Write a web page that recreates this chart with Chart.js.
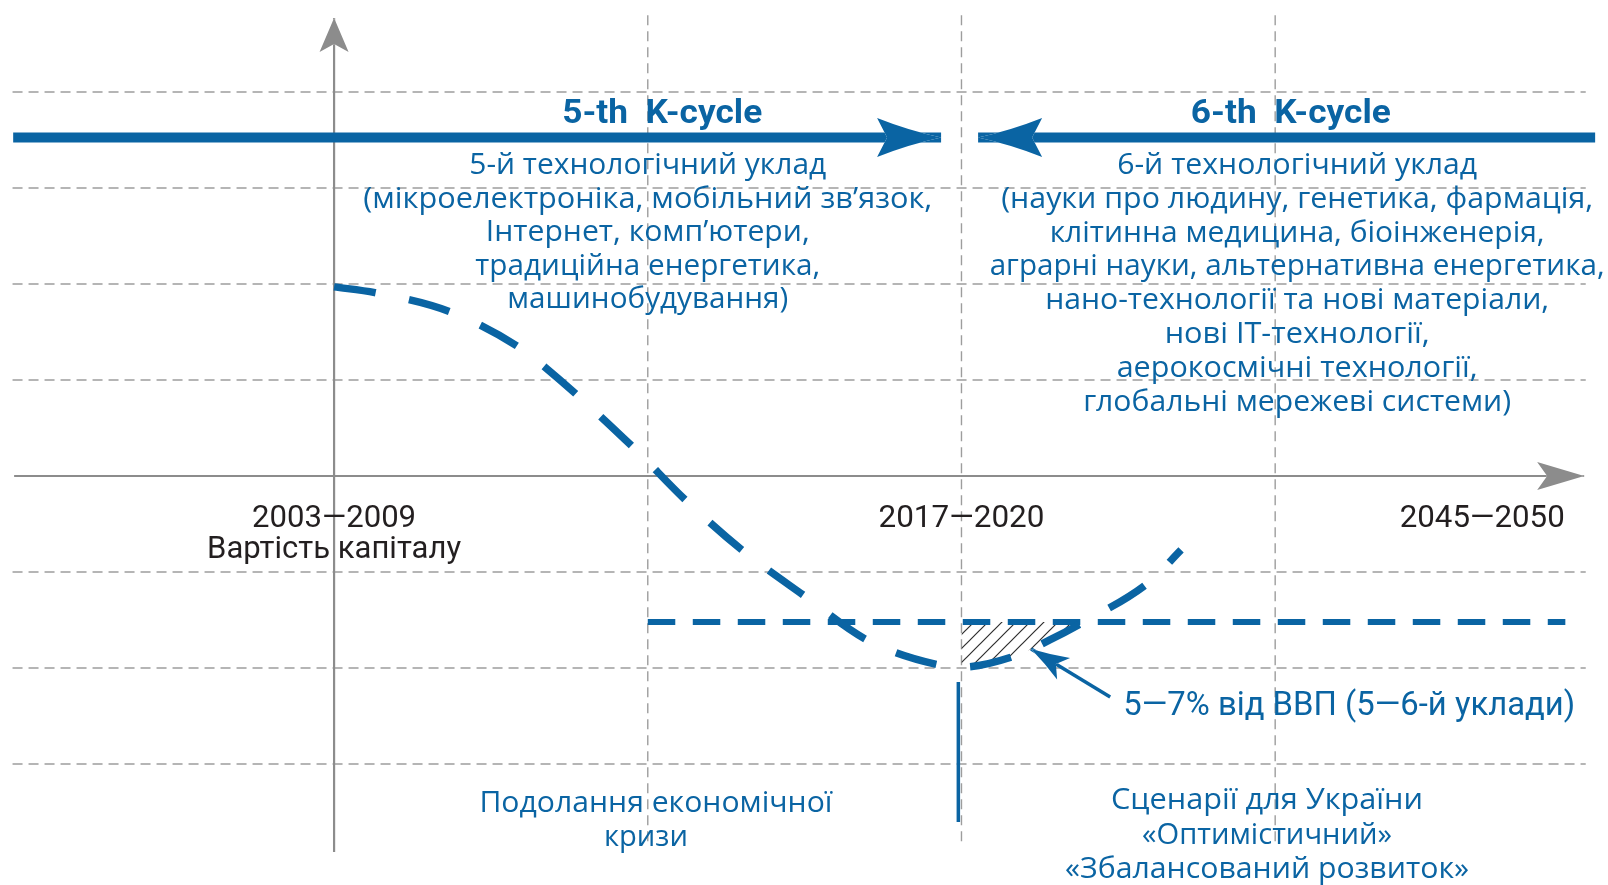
<!DOCTYPE html>
<html lang="uk">
<head>
<meta charset="utf-8">
<title>5-th / 6-th K-cycle</title>
<script src="https://cdn.jsdelivr.net/npm/chart.js@4.4.1/dist/chart.umd.min.js"></script>
<style>
  html, body { margin: 0; padding: 0; background: #fff; }
  #chart { display: block; }
</style>
</head>
<body>
<canvas id="chart" width="1608" height="885"></canvas>
<script>
// одиниці: x = 0 вертикальна вісь, 1/2/3 = вертикальні пунктири; y = 0 горизонтальна вісь, 1 = крок сітки
const curveX = [0, 0.13, 0.37, 0.59, 0.67, 0.95, 1.12, 1.30, 1.50, 1.70, 1.93, 2.00, 2.17, 2.28, 2.39, 2.60, 2.70];
const curveY = [1.97, 1.91, 1.71, 1.34, 1.14, 0.31, -0.25, -0.77, -1.25, -1.71, -1.97, -1.99, -1.875, -1.71, -1.52, -1.10, -0.77];

const gdpLevel = -1.52;          // рівень 5-7% ВВП
const gdpRange = [1, 3.925];

const gridRows = [4, 3, 2, 1, -1, -2, -3];
const gridCols = [1, 2, 3];

const periods = ['2003—2009', '2017—2020', '2045—2050'];
const periodX = [0, 2, 3.66];

const cycleTitles = ['5-th  K-cycle', '6-th  K-cycle'];
const tech5 = [
  '5-й технологічний уклад',
  '(мікроелектроніка, мобільний зв’язок,',
  'Інтернет, комп’ютери,',
  'традиційна енергетика,',
  'машинобудування)'
];
const tech6 = [
  '6-й технологічний уклад',
  '(науки про людину, генетика, фармація,',
  'клітинна медицина, біоінженерія,',
  'аграрні науки, альтернативна енергетика,',
  'нано-технології та нові матеріали,',
  'нові ІТ-технології,',
  'аерокосмічні технології,',
  'глобальні мережеві системи)'
];
const capitalLabel = 'Вартість капіталу';
const gdpLabel = '5—7% від ВВП (5—6-й уклади)';
const crisisLines = ['Подолання економічної', 'кризи'];
const scenarioLines = ['Сценарії для України', '«Оптимістичний»', '«Збалансований розвиток»'];

const BLUE = '#0a64a3';
const AXIS = '#8c8c8c';
const GRID = '#9d9d9d';
const INK = '#231f20';
const TXT = '30px "Open Sans", "Noto Sans", sans-serif';
const NUM = '32px Roboto, "Liberation Sans", sans-serif';
const periodW = [164, 166, 165];

const textBlocks = [
  { lines: [cycleTitles[0]], x: 1.046, y: 3.68, lh: 0, font: 'bold 33px Roboto, sans-serif', color: BLUE, w: [200] },
  { lines: [cycleTitles[1]], x: 3.05, y: 3.68, lh: 0, font: 'bold 33px Roboto, sans-serif', color: BLUE, w: [200] },
  { lines: tech5, x: 1.0, y: 3.146, lh: 33.6, font: TXT, color: BLUE, w: [357, 569, 324, 345, 281] },
  { lines: tech6, x: 3.07, y: 3.146, lh: 33.8, font: TXT, color: BLUE, w: [360, 592, 495, 615, 504, 265, 361, 428] },
  { lines: [capitalLabel], x: 0, y: -0.854, lh: 0, font: NUM, color: INK, w: [254] },
  { lines: [gdpLabel], x: 3.236, y: -2.49, lh: 0, font: '34px Roboto, sans-serif', color: BLUE, w: [452] },
  { lines: crisisLines, x: 1.01, y: -3.5, lh: 34, font: TXT, color: BLUE, w: [353, 84], dx: [5, -5] },
  { lines: scenarioLines, x: 2.974, y: -3.47, lh: 34.5, font: TXT, color: BLUE, w: [312, 250, 404] }
];
periods.forEach((p, i) => {
  textBlocks.push({ lines: [p], x: periodX[i], y: -0.531, lh: 0, font: NUM, color: INK, w: [periodW[i]] });
});

const pts = (xs, ys) => xs.map((x, i) => ({ x: x, y: ys[i] }));
const curve = pts(curveX, curveY);

function hatchPattern(ctx) {
  const c = document.createElement('canvas');
  c.width = 14; c.height = 14;
  const g = c.getContext('2d');
  g.strokeStyle = '#2e2e2e';
  g.lineWidth = 1.2;
  g.beginPath();
  g.moveTo(-2, 16); g.lineTo(16, -2);
  g.moveTo(-2, 2); g.lineTo(2, -2);
  g.moveTo(12, 16); g.lineTo(16, 12);
  g.stroke();
  return ctx.createPattern(c, 'repeat');
}

function line(data, color, width, extra) {
  return Object.assign({
    data: data,
    borderColor: color,
    borderWidth: width,
    pointRadius: 0,
    fill: false,
    tension: 0
  }, extra || {});
}

// наконечники стрілок: остання точка набору = вістря
function headShape(meta, h) {
  const n = meta.data.length;
  const tip = meta.data[n - 1], prev = meta.data[n - 2];
  const a = Math.atan2(tip.y - prev.y, tip.x - prev.x);
  const ux = Math.cos(a), uy = Math.sin(a);
  const bx = tip.x - ux * h.len, by = tip.y - uy * h.len;
  const c1 = [bx - uy * h.half, by + ux * h.half];
  const c2 = [bx + uy * h.half, by - ux * h.half];
  const mid = [(tip.x + bx) / 2, (tip.y + by) / 2];
  const f = h.bend || 0;
  const ctrl = c => [
    ((tip.x + c[0]) / 2) * (1 - f) + mid[0] * f,
    ((tip.y + c[1]) / 2) * (1 - f) + mid[1] * f
  ];
  return {
    tip: [tip.x, tip.y], c1: c1, c2: c2, k1: ctrl(c1), k2: ctrl(c2),
    notch: [tip.x - ux * (h.len - h.notch), tip.y - uy * (h.len - h.notch)]
  };
}
function traceHead(ctx, s) {
  ctx.moveTo(s.tip[0], s.tip[1]);
  ctx.quadraticCurveTo(s.k1[0], s.k1[1], s.c1[0], s.c1[1]);
  ctx.lineTo(s.notch[0], s.notch[1]);
  ctx.lineTo(s.c2[0], s.c2[1]);
  ctx.quadraticCurveTo(s.k2[0], s.k2[1], s.tip[0], s.tip[1]);
  ctx.closePath();
}

const headPlugin = {
  id: 'heads',
  beforeDatasetDraw(chart, args) {
    const ds = chart.data.datasets[args.index];
    if (!ds.head) return;
    const ctx = chart.ctx;
    ctx.save();
    ctx.beginPath();
    ctx.rect(0, 0, chart.width, chart.height);
    traceHead(ctx, headShape(args.meta, ds.head));
    ctx.clip('evenodd');
  },
  afterDatasetDraw(chart, args) {
    const ds = chart.data.datasets[args.index];
    if (!ds.head) return;
    const ctx = chart.ctx;
    ctx.restore();
    ctx.save();
    ctx.fillStyle = ds.borderColor;
    ctx.beginPath();
    traceHead(ctx, headShape(args.meta, ds.head));
    ctx.fill();
    ctx.restore();
  }
};

const textPlugin = {
  id: 'texts',
  afterDatasetsDraw(chart) {
    const ctx = chart.ctx;
    const xs = chart.scales.x, ys = chart.scales.y;
    ctx.save();
    ctx.textAlign = 'center';
    ctx.textBaseline = 'alphabetic';
    textBlocks.forEach(b => {
      ctx.font = b.font;
      ctx.fillStyle = b.color;
      const px = xs.getPixelForValue(b.x);
      const py = ys.getPixelForValue(b.y);
      b.lines.forEach((t, i) => {
        const k = b.w[i] / ctx.measureText(t).width;
        ctx.save();
        ctx.translate(px + (b.dx ? b.dx[i] : 0), py + i * b.lh);
        ctx.scale(k, 1);
        ctx.fillText(t, 0, 0);
        ctx.restore();
      });
    });
    ctx.restore();
  }
};

const ctx = document.getElementById('chart').getContext('2d');

// від нижнього шару до верхнього
const layers = [];
gridRows.forEach(r => layers.push(line([{ x: -1.025, y: r }, { x: 3.99, y: r }], GRID, 1.4, { borderDash: [10, 6] })));
gridCols.forEach(c => layers.push(line([{ x: c, y: 4.8 }, { x: c, y: -3.83 }], GRID, 1.4, { borderDash: [10, 6] })));
layers.push(line([{ x: -1.02, y: 0 }, { x: 3.985, y: 0 }], AXIS, 2.2, { head: { len: 47, half: 14, notch: 10 } }));
layers.push(line([{ x: 0, y: -3.917 }, { x: 0, y: 4.77 }], AXIS, 2.2, { head: { len: 34, half: 14.5, notch: 8 } }));
layers.push(line(curve.filter(p => p.x >= 2 && p.x <= 2.39), 'rgba(0,0,0,0)', 0, {
  fill: { value: gdpLevel },
  backgroundColor: hatchPattern(ctx),
  cubicInterpolationMode: 'monotone'
}));
layers.push(line([{ x: gdpRange[0], y: gdpLevel }, { x: gdpRange[1], y: gdpLevel }], BLUE, 6, { borderDash: [27.5, 17.5] }));
layers.push(line(curve, BLUE, 7.5, { borderDash: [42, 34], cubicInterpolationMode: 'monotone' }));
layers.push(line([{ x: -1.023, y: 3.526 }, { x: 1.935, y: 3.526 }], BLUE, 10, { head: { len: 64, half: 19.5, notch: 10, bend: 0.3 } }));
layers.push(line([{ x: 4.02, y: 3.526 }, { x: 2.053, y: 3.526 }], BLUE, 10, { head: { len: 64, half: 19.5, notch: 10, bend: 0.3 } }));
layers.push(line([{ x: 1.99, y: -2.146 }, { x: 1.99, y: -3.604 }], BLUE, 3.5));
layers.push(line([{ x: 2.474, y: -2.302 }, { x: 2.222, y: -1.802 }], BLUE, 3.5, { head: { len: 38, half: 12.5, notch: 9, bend: 0.2 } }));

new Chart(ctx, {
  type: 'line',
  data: { datasets: layers.reverse() },
  options: {
    responsive: false,
    animation: false,
    layout: { padding: 0 },
    plugins: { legend: { display: false }, tooltip: { enabled: false } },
    scales: {
      x: { type: 'linear', min: -1.065, max: 4.061, display: false },
      y: { type: 'linear', min: -4.26, max: 4.958, display: false }
    }
  },
  plugins: [headPlugin, textPlugin]
});
</script>
</body>
</html>
